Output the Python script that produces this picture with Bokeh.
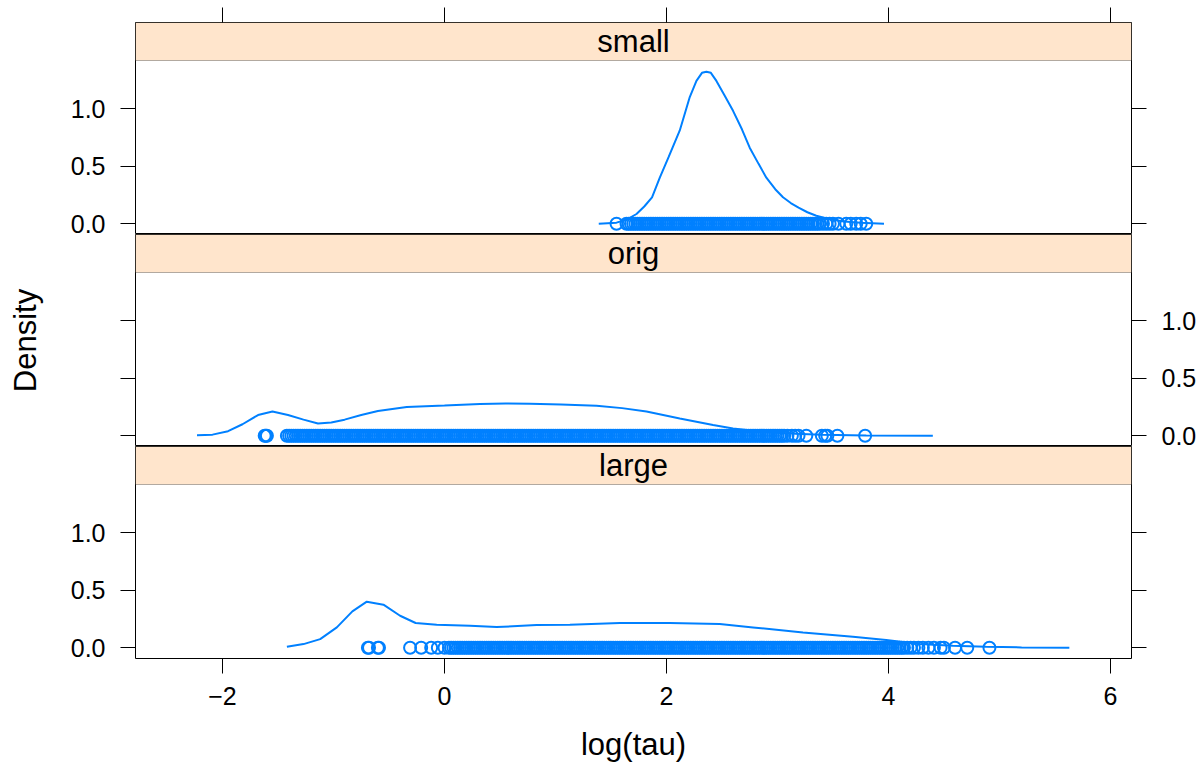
from bokeh.plotting import figure
from bokeh.layouts import column
from bokeh.models import (FixedTicker, BoxAnnotation, Label, LinearAxis, Range1d,
                          PrintfTickFormatter, ColumnDataSource)
from bokeh.embed import file_html
from bokeh.resources import INLINE

# ---------------- data ----------------
panel_names = ["small", "orig", "large"]
x_ticks = [-2, 0, 2, 4, 6]
y_ticks = [0.0, 0.5, 1.0]
x_title = "log(tau)"
y_title = "Density"

small_x = [1.39, 1.55, 1.65, 1.73, 1.80, 1.87, 1.94, 2.02, 2.12, 2.21, 2.27, 2.32, 2.36,
           2.40, 2.45, 2.52, 2.60, 2.68, 2.75, 2.83, 2.90, 2.98, 3.05, 3.12, 3.19, 3.27,
           3.35, 3.47, 3.60, 3.75, 3.96]
small_dens = [0.0, 0.01, 0.04, 0.085, 0.15, 0.23, 0.40, 0.58, 0.81, 1.10, 1.24, 1.31, 1.32,
              1.31, 1.24, 1.12, 0.98, 0.82, 0.66, 0.52, 0.40, 0.30, 0.23, 0.18, 0.14, 0.10,
              0.07, 0.04, 0.02, 0.01, 0.0]

orig_x = [-2.23, -2.09, -1.95, -1.82, -1.68, -1.55, -1.41, -1.27, -1.14, -1.02, -0.90, -0.75,
          -0.60, -0.34, 0.0, 0.32, 0.55, 0.77, 1.05, 1.37, 1.60, 1.82, 2.12, 2.42, 2.60,
          2.87, 3.10, 3.40, 3.80, 4.40]
orig_dens = [0.005, 0.01, 0.04, 0.10, 0.18, 0.21, 0.18, 0.14, 0.107, 0.116, 0.14, 0.18,
             0.215, 0.25, 0.262, 0.276, 0.28, 0.278, 0.272, 0.26, 0.24, 0.21, 0.15, 0.093,
             0.063, 0.035, 0.02, 0.008, 0.003, 0.0]

large_x = [-1.42, -1.27, -1.12, -0.97, -0.83, -0.70, -0.55, -0.40, -0.26, -0.07, 0.23, 0.47,
           0.83, 1.13, 1.58, 2.03, 2.48, 2.78, 3.23, 3.68, 3.98, 4.28, 4.58, 4.88, 5.20, 5.63]
large_dens = [0.009, 0.032, 0.075, 0.177, 0.316, 0.40, 0.374, 0.278, 0.215, 0.20, 0.191,
              0.180, 0.197, 0.20, 0.215, 0.215, 0.206, 0.177, 0.133, 0.096, 0.067, 0.032,
              0.017, 0.009, 0.003, 0.0]

small_pts = [1.55, 1.64, 1.66, 1.68, 1.70, 1.72, 1.74, 1.76, 1.78, 1.80, 1.82, 1.84, 1.86,
             1.88, 1.90, 1.92, 1.94, 1.96, 1.98, 2.00, 2.02, 2.04, 2.06, 2.08, 2.10, 2.12,
             2.14, 2.16, 2.18, 2.20, 2.22, 2.24, 2.26, 2.28, 2.30, 2.32, 2.34, 2.36, 2.38,
             2.40, 2.42, 2.44, 2.46, 2.48, 2.50, 2.52, 2.54, 2.56, 2.58, 2.60, 2.62, 2.64,
             2.66, 2.68, 2.70, 2.72, 2.74, 2.76, 2.78, 2.80, 2.82, 2.84, 2.86, 2.88, 2.90,
             2.92, 2.94, 2.96, 2.98, 3.00, 3.02, 3.04, 3.06, 3.08, 3.10, 3.12, 3.14, 3.16,
             3.18, 3.20, 3.22, 3.24, 3.26, 3.28, 3.30, 3.32, 3.34, 3.36, 3.38, 3.41, 3.44,
             3.47, 3.50, 3.55, 3.62, 3.66, 3.71, 3.75, 3.80]

orig_pts = [-1.62, -1.61, -1.60,
            -1.42, -1.40, -1.38, -1.36, -1.34, -1.32, -1.30, -1.28, -1.26, -1.24, -1.22,
            -1.20, -1.18, -1.16, -1.14, -1.12, -1.10, -1.08, -1.06, -1.04, -1.02, -1.00,
            -0.98, -0.96, -0.94, -0.92, -0.90, -0.88, -0.86, -0.84, -0.82, -0.80, -0.78,
            -0.76, -0.74, -0.72, -0.70, -0.68, -0.66, -0.64, -0.62, -0.60, -0.58, -0.56,
            -0.54, -0.52, -0.50, -0.48, -0.46, -0.44, -0.42, -0.40, -0.38, -0.36, -0.34,
            -0.32, -0.30, -0.28, -0.26, -0.24, -0.22, -0.20, -0.18, -0.16, -0.14, -0.12,
            -0.10, -0.08, -0.06, -0.04, -0.02, 0.00, 0.02, 0.04, 0.06, 0.08, 0.10, 0.12,
            0.14, 0.16, 0.18, 0.20, 0.22, 0.24, 0.26, 0.28, 0.30, 0.32, 0.34, 0.36, 0.38,
            0.40, 0.42, 0.44, 0.46, 0.48, 0.50, 0.52, 0.54, 0.56, 0.58, 0.60, 0.62, 0.64,
            0.66, 0.68, 0.70, 0.72, 0.74, 0.76, 0.78, 0.80, 0.82, 0.84, 0.86, 0.88, 0.90,
            0.92, 0.94, 0.96, 0.98, 1.00, 1.02, 1.04, 1.06, 1.08, 1.10, 1.12, 1.14, 1.16,
            1.18, 1.20, 1.22, 1.24, 1.26, 1.28, 1.30, 1.32, 1.34, 1.36, 1.38, 1.40, 1.42,
            1.44, 1.46, 1.48, 1.50, 1.52, 1.54, 1.56, 1.58, 1.60, 1.62, 1.64, 1.66, 1.68,
            1.70, 1.72, 1.74, 1.76, 1.78, 1.80, 1.82, 1.84, 1.86, 1.88, 1.90, 1.92, 1.94,
            1.96, 1.98, 2.00, 2.02, 2.04, 2.06, 2.08, 2.10, 2.12, 2.14, 2.16, 2.18, 2.20,
            2.22, 2.24, 2.26, 2.28, 2.30, 2.32, 2.34, 2.36, 2.38, 2.40, 2.42, 2.44, 2.46,
            2.48, 2.50, 2.52, 2.54, 2.56, 2.58, 2.60, 2.62, 2.64, 2.66, 2.68, 2.70, 2.72,
            2.74, 2.76, 2.78, 2.80, 2.82, 2.84, 2.86, 2.88, 2.90, 2.92, 2.94, 2.96, 2.98,
            3.00, 3.02, 3.04, 3.06, 3.09, 3.13, 3.16, 3.19, 3.26, 3.40, 3.43, 3.45, 3.54,
            3.79]

large_pts = [-0.69, -0.68, -0.60, -0.59, -0.31, -0.21, -0.12, -0.06, 0.00,
             0.04, 0.06, 0.08, 0.10, 0.12, 0.14, 0.16, 0.18, 0.20, 0.22, 0.24, 0.26, 0.28,
             0.30, 0.32, 0.34, 0.36, 0.38, 0.40, 0.42, 0.44, 0.46, 0.48, 0.50, 0.52, 0.54,
             0.56, 0.58, 0.60, 0.62, 0.64, 0.66, 0.68, 0.70, 0.72, 0.74, 0.76, 0.78, 0.80,
             0.82, 0.84, 0.86, 0.88, 0.90, 0.92, 0.94, 0.96, 0.98, 1.00, 1.02, 1.04, 1.06,
             1.08, 1.10, 1.12, 1.14, 1.16, 1.18, 1.20, 1.22, 1.24, 1.26, 1.28, 1.30, 1.32,
             1.34, 1.36, 1.38, 1.40, 1.42, 1.44, 1.46, 1.48, 1.50, 1.52, 1.54, 1.56, 1.58,
             1.60, 1.62, 1.64, 1.66, 1.68, 1.70, 1.72, 1.74, 1.76, 1.78, 1.80, 1.82, 1.84,
             1.86, 1.88, 1.90, 1.92, 1.94, 1.96, 1.98, 2.00, 2.02, 2.04, 2.06, 2.08, 2.10,
             2.12, 2.14, 2.16, 2.18, 2.20, 2.22, 2.24, 2.26, 2.28, 2.30, 2.32, 2.34, 2.36,
             2.38, 2.40, 2.42, 2.44, 2.46, 2.48, 2.50, 2.52, 2.54, 2.56, 2.58, 2.60, 2.62,
             2.64, 2.66, 2.68, 2.70, 2.72, 2.74, 2.76, 2.78, 2.80, 2.82, 2.84, 2.86, 2.88,
             2.90, 2.92, 2.94, 2.96, 2.98, 3.00, 3.02, 3.04, 3.06, 3.08, 3.10, 3.12, 3.14,
             3.16, 3.18, 3.20, 3.22, 3.24, 3.26, 3.28, 3.30, 3.32, 3.34, 3.36, 3.38, 3.40,
             3.42, 3.44, 3.46, 3.48, 3.50, 3.52, 3.54, 3.56, 3.58, 3.60, 3.62, 3.64, 3.66,
             3.68, 3.70, 3.72, 3.74, 3.76, 3.78, 3.80, 3.82, 3.84, 3.86, 3.88, 3.90, 3.92,
             3.94, 3.96, 3.98, 4.00, 4.02, 4.04, 4.06, 4.08, 4.10, 4.12, 4.14,
             4.17, 4.20, 4.23, 4.27, 4.31, 4.36, 4.41, 4.47, 4.50, 4.60, 4.71, 4.91]

# ---------------- style / layout ----------------
LINE_COLOR = "#0080ff"
STRIP_COLOR = "#ffe5cc"
FONT = "Liberation Sans"
TICK_FS = "25px"
TITLE_FS = "31px"
XLIM = (-2.784, 6.19)
YLIM = (-0.093, 1.417)
STRIP_PX, PLOT_PX, FRAME_W = 38, 174, 996
BORDER_L, BORDER_R, BORDER_T, BORDER_B = 135, 68, 22, 111
strip_units = (YLIM[1] - YLIM[0]) * STRIP_PX / PLOT_PX
Y_END = YLIM[1] + strip_units


def style_axis(ax, ticks, show_labels, standoff, fmt=None):
    ax.ticker = FixedTicker(ticks=ticks, minor_ticks=[])
    ax.major_tick_out = 15
    ax.major_tick_in = 0
    ax.minor_tick_out = 0
    ax.minor_tick_in = 0
    ax.major_tick_line_color = "black"
    ax.major_tick_line_width = 1
    ax.axis_line_color = None
    ax.major_label_text_font = FONT
    ax.major_label_text_font_size = TICK_FS
    ax.major_label_text_color = "black"
    ax.major_label_standoff = standoff
    if fmt is not None:
        ax.formatter = PrintfTickFormatter(format=fmt)
    if not show_labels:
        ax.major_label_text_color = None
    return ax


def make_panel(name, xs, dens, pts, label_side, top_axis=False, bottom_axis=False,
               ylabel=False):
    p = figure(x_range=Range1d(*XLIM), y_range=Range1d(YLIM[0], Y_END),
               frame_width=FRAME_W, frame_height=STRIP_PX + PLOT_PX,
               output_backend="svg", toolbar_location=None,
               x_axis_location=None, y_axis_location=None,
               min_border_left=BORDER_L, min_border_right=BORDER_R,
               min_border_top=BORDER_T if top_axis else 0,
               min_border_bottom=BORDER_B if bottom_axis else 0)
    p.grid.visible = False
    p.outline_line_color = "black"
    p.outline_line_width = 1
    p.background_fill_color = "white"
    p.border_fill_color = "white"

    left = style_axis(LinearAxis(), y_ticks, label_side == "left", 15, "%.1f")
    right = style_axis(LinearAxis(), y_ticks, label_side == "right", 15, "%.1f")
    if ylabel:
        left.major_label_text_font_size = "0px"
        left.major_label_standoff = 0
        left.axis_label = y_title
        left.axis_label_text_font = FONT
        left.axis_label_text_font_size = TITLE_FS
        left.axis_label_text_font_style = "normal"
        left.axis_label_text_color = "black"
        left.axis_label_standoff = 78
    p.add_layout(left, "left")
    p.add_layout(right, "right")

    if top_axis:
        top = style_axis(LinearAxis(), x_ticks, False, 0)
        top.major_label_text_font_size = "0px"
        p.add_layout(top, "above")
    if bottom_axis:
        bot = style_axis(LinearAxis(), x_ticks, True, 13)
        bot.axis_label = x_title
        bot.axis_label_text_font = FONT
        bot.axis_label_text_font_size = TITLE_FS
        bot.axis_label_text_font_style = "normal"
        bot.axis_label_text_color = "black"
        bot.axis_label_standoff = 19
        p.add_layout(bot, "below")

    # strip
    p.add_layout(BoxAnnotation(bottom=YLIM[1], top=Y_END, left=XLIM[0], right=XLIM[1],
                               fill_color=STRIP_COLOR, fill_alpha=1.0,
                               line_color="black", line_width=1, level="underlay"))
    p.add_layout(Label(x=(XLIM[0] + XLIM[1]) / 2, y=YLIM[1] + strip_units / 2, text=name,
                       text_align="center", text_baseline="middle",
                       text_font=FONT, text_font_size=TITLE_FS, text_color="black"))

    src = ColumnDataSource(dict(x=pts, y=[0.0] * len(pts)))
    p.scatter("x", "y", source=src, marker="circle", size=12, fill_color=None,
              line_color=LINE_COLOR, line_width=2)
    p.line(xs, dens, line_color=LINE_COLOR, line_width=2)
    return p


p_small = make_panel(panel_names[0], small_x, small_dens, small_pts, "left", top_axis=True)
p_orig = make_panel(panel_names[1], orig_x, orig_dens, orig_pts, "right", ylabel=True)
p_large = make_panel(panel_names[2], large_x, large_dens, large_pts, "left", bottom_axis=True)

layout = column(p_small, p_orig, p_large, spacing=0)

with open("out.html", "w") as f:
    f.write(file_html(layout, INLINE))
